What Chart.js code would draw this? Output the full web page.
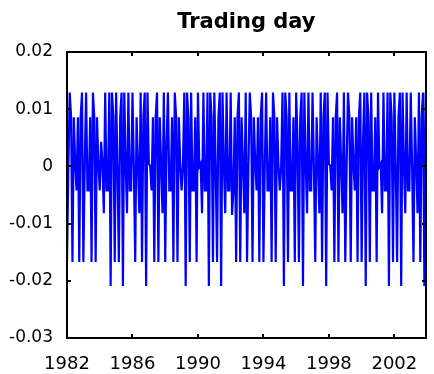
<!DOCTYPE html>
<html>
<head>
<meta charset="utf-8">
<script src="https://cdn.jsdelivr.net/npm/chart.js@4/dist/chart.umd.min.js"></script>
<style>
html, body { margin: 0; padding: 0; background: #fff; }
canvas { display: block; }
</style>
</head>
<body>
<canvas id="c" width="434" height="374"></canvas>
<script>
const chartTitle = 'Trading day';
const firstYear = 1982;
const xTicks = [1982, 1986, 1990, 1994, 1998, 2002];
const yTicks = [-0.03, -0.02, -0.01, 0, 0.01, 0.02];
const yTickLabels = ['-0.03', '-0.02', '-0.01', '0', '0.01', '0.02'];

// Monthly trading-day effect, January 1982 to December 2003 (one row per year)
const tradingDay = [
  -0.0167, 0, 0.0129, 0.0086, -0.0167, 0.0086, 0.0005, -0.0042, 0.0086, -0.0167, 0.0086, 0.0129,   // 1982
  -0.0167, 0, 0.0129, -0.0042, -0.0042, 0.0086, -0.0167, 0.0129, 0.0086, -0.0167, 0.0086, 0.0005,  // 1983
  -0.0042, 0.0043, 0.0005, -0.0082, 0.0129, -0.0042, -0.0042, 0.0129, -0.0209, 0.0129, 0.0086, -0.0167, // 1984
  0.0129, 0, -0.0167, 0.0086, 0.0129, -0.0209, 0.0129, 0.0005, -0.0082, 0.0129, -0.0042, -0.0042,   // 1985
  0.0129, 0, -0.0167, 0.0086, 0.0005, -0.0082, 0.0129, -0.0167, 0.0086, 0.0129, -0.0209, 0.0129,    // 1986
  0.0005, 0, -0.0042, 0.0086, -0.0167, 0.0086, 0.0129, -0.0167, 0.0086, 0.0005, -0.0082, 0.0129,    // 1987
  -0.0167, 0.0043, 0.0129, -0.0042, -0.0042, 0.0086, -0.0167, 0.0129, 0.0086, -0.0167, 0.0086, 0.0005, // 1988
  -0.0042, 0, 0.0129, -0.0209, 0.0129, 0.0086, -0.0167, 0.0129, -0.0042, -0.0042, 0.0086, -0.0167,  // 1989
  0.0129, 0, 0.0005, -0.0082, 0.0129, -0.0042, -0.0042, 0.0129, -0.0209, 0.0129, 0.0086, -0.0167,   // 1990
  0.0129, 0, -0.0167, 0.0086, 0.0129, -0.0209, 0.0129, 0.0005, -0.0082, 0.0129, -0.0042, -0.0042,   // 1991
  0.0129, -0.0085, -0.0042, 0.0086, -0.0167, 0.0086, 0.0129, -0.0167, 0.0086, 0.0005, -0.0082, 0.0129, // 1992
  -0.0167, 0, 0.0129, 0.0086, -0.0167, 0.0086, 0.0005, -0.0042, 0.0086, -0.0167, 0.0086, 0.0129,   // 1993
  -0.0167, 0, 0.0129, -0.0042, -0.0042, 0.0086, -0.0167, 0.0129, 0.0086, -0.0167, 0.0086, 0.0005,  // 1994
  -0.0042, 0, 0.0129, -0.0209, 0.0129, 0.0086, -0.0167, 0.0129, -0.0042, -0.0042, 0.0086, -0.0167,  // 1995
  0.0129, 0.0043, -0.0167, 0.0086, 0.0129, -0.0209, 0.0129, 0.0005, -0.0082, 0.0129, -0.0042, -0.0042, // 1996
  0.0129, 0, -0.0167, 0.0086, 0.0005, -0.0082, 0.0129, -0.0167, 0.0086, 0.0129, -0.0209, 0.0129,    // 1997
  0.0005, 0, -0.0042, 0.0086, -0.0167, 0.0086, 0.0129, -0.0167, 0.0086, 0.0005, -0.0082, 0.0129,    // 1998
  -0.0167, 0, 0.0129, 0.0086, -0.0167, 0.0086, 0.0005, -0.0042, 0.0086, -0.0167, 0.0086, 0.0129,   // 1999
  -0.0167, 0.0043, 0.0129, -0.0209, 0.0129, 0.0086, -0.0167, 0.0129, -0.0042, -0.0042, 0.0086, -0.0167, // 2000
  0.0129, 0, 0.0005, -0.0082, 0.0129, -0.0042, -0.0042, 0.0129, -0.0209, 0.0129, 0.0086, -0.0167,   // 2001
  0.0129, 0, -0.0167, 0.0086, 0.0129, -0.0209, 0.0129, 0.0005, -0.0082, 0.0129, -0.0042, -0.0042,   // 2002
  0.0129, 0, -0.0167, 0.0086, 0.0005, -0.0082, 0.0129, -0.0167, 0.0086, 0.0129, -0.0209, 0.0129     // 2003
];

const points = tradingDay.map((v, i) => ({ x: firstYear + i / 12, y: v }));
const lastX = firstYear + (tradingDay.length - 1) / 12;
const yMin = yTicks[0];
const yMax = yTicks[yTicks.length - 1];

const tickFont = { family: 'DejaVu Sans', size: 18 };
const black = '#000';

// Closed box around the plot area with short inward tick marks on all four sides
function drawBox(chart) {
  const ctx = chart.ctx;
  const a = chart.chartArea;
  const xs = chart.scales.x, ys = chart.scales.y;
  const len = 4;
  const left = Math.round(a.left), right = Math.round(a.right);
  const top = Math.round(a.top), bottom = Math.round(a.bottom);
  ctx.save();
  ctx.strokeStyle = black;
  ctx.lineWidth = 2;
  ctx.strokeRect(left, top, right - left, bottom - top);
  ctx.lineWidth = 2;
  ctx.beginPath();
  xTicks.forEach(t => {
    const px = Math.round(xs.getPixelForValue(t));
    ctx.moveTo(px, top); ctx.lineTo(px, top + len);
    ctx.moveTo(px, bottom); ctx.lineTo(px, bottom - len);
  });
  yTicks.forEach(t => {
    const py = Math.round(ys.getPixelForValue(t));
    ctx.moveTo(left, py); ctx.lineTo(left + len, py);
    ctx.moveTo(right, py); ctx.lineTo(right - len, py);
  });
  ctx.stroke();
  ctx.restore();
}

const boxPlugin = { id: 'axesBox', afterDraw: drawBox };
Chart.register(boxPlugin);

new Chart(document.getElementById('c'), {
  type: 'line',
  data: {
    datasets: [{
      data: points,
      borderColor: '#0000ff',
      borderWidth: 2.2,
      pointRadius: 0,
      fill: false,
      tension: 0
    }]
  },
  options: {
    responsive: false,
    animation: false,
    devicePixelRatio: 1,
    layout: { padding: { left: 0, right: 3, top: 0, bottom: 0 } },
    plugins: {
      legend: { display: false },
      tooltip: { enabled: false },
      title: {
        display: true,
        text: chartTitle,
        fullSize: false,
        color: black,
        font: { family: 'DejaVu Sans', size: 21, weight: 'bold' },
        padding: { top: 10, bottom: 16.8 }
      }
    },
    scales: {
      x: {
        type: 'linear',
        min: firstYear,
        max: lastX,
        afterBuildTicks: s => { s.ticks = xTicks.map(v => ({ value: v })); },
        grid: { display: false, drawTicks: false },
        border: { display: true, color: black, width: 1.6 },
        ticks: {
          color: black, font: tickFont, padding: 16,
          maxRotation: 0, autoSkip: false,
          callback: v => String(v)
        },
        afterFit: s => { s.height = 36; }
      },
      y: {
        type: 'linear',
        min: yMin,
        max: yMax,
        afterBuildTicks: s => { s.ticks = yTicks.map(v => ({ value: v })); },
        grid: { display: false, drawTicks: false },
        border: { display: true, color: black, width: 1.6 },
        ticks: {
          color: black, font: { family: 'DejaVu Sans', size: 17 }, padding: 14,
          callback: (v, i) => yTickLabels[i]
        },
        afterFit: s => { s.width = 67; }
      }
    }
  }
});
</script>
</body>
</html>
